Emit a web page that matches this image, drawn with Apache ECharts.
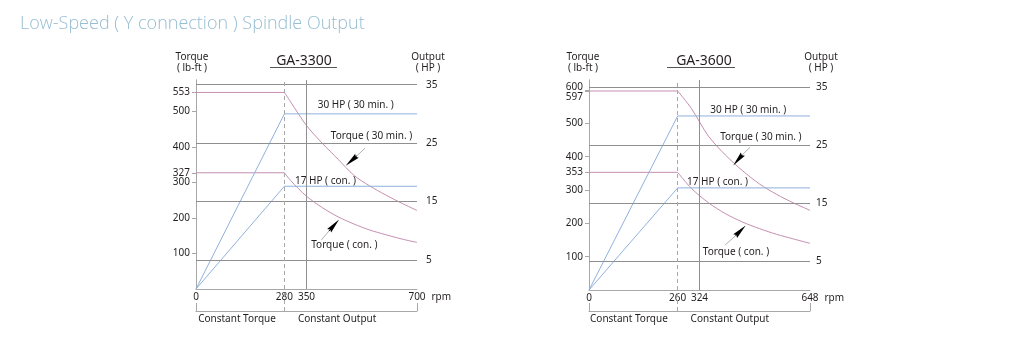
<!DOCTYPE html>
<html><head><meta charset="utf-8">
<script src="https://cdn.jsdelivr.net/npm/echarts@6/dist/echarts.min.js"></script>
<style>html,body{margin:0;padding:0;background:#fff}#c{width:1009px;height:355px}</style>
</head><body><div id="c"></div>
<script>
// ---------------- data ----------------
const mainTitle = 'Low-Speed ( Y connection ) Spindle Output';
const modelNames = ['GA-3300', 'GA-3600'];
const hpTicks = [5, 15, 25, 35];
const bracketText = ['Constant Torque', 'Constant Output'];
const hpLabelText = ['30 HP ( 30 min. )', '17 HP ( con. )'];
const torqueLabelText = ['Torque ( 30 min. )', 'Torque ( con. )'];
const torqueAxisName = 'Torque\n( lb-ft )';
const hpAxisName = 'Output\n( HP )';

// GA-3300
const a_rpmTicks = [0, 280, 350, 700];
const a_torqueTicks = [100, 200, 300, 327, 400, 500, 553];
const a_rpmCurve = [280, 300, 350, 400, 450, 500, 550, 600, 650, 700];
const a_torque30 = [553, 526, 460, 410, 365, 320, 290, 265, 242, 221];
const a_torqueCon = [327, 305, 261, 229, 203, 183, 166, 153, 141, 131];
const a_outRpm = [0, 280, 700];
const a_out30 = [0, 30, 30];
const a_outCon = [0, 17.6, 17.6];
const a_bracketAt = [130, 447];
const a_hpLabelAt = [[506, 31.5], [410, 18.55]];
const a_torqueLabelAt = [[556, 430], [470, 124]];
const a_arrowFrom = [[535, 396], [397, 138]];
const a_arrowBase = [[510, 375], [421, 163]];
const a_arrowTip = [[474, 347], [454, 196]];

// GA-3600
const b_rpmTicks = [0, 260, 324, 648];
const b_torqueTicks = [100, 200, 300, 353, 400, 500, 597, 600];
const b_rpmCurve = [260, 300, 350, 400, 450, 500, 550, 600, 648];
const b_torque30 = [597, 545, 462, 405, 358, 318, 287, 261, 239];
const b_torqueCon = [353, 305, 262, 229, 204, 184, 167, 153, 140];
const b_outRpm = [0, 260, 648];
const b_out30 = [0, 30, 30];
const b_outCon = [0, 17.6, 17.6];
const b_bracketAt = [117, 413];
const b_hpLabelAt = [[467, 31.0], [377, 18.67]];
const b_torqueLabelAt = [[504, 458], [431, 113]];
const b_arrowFrom = [[472, 428], [399, 135]];
const b_arrowBase = [[449, 405], [430, 163]];
const b_arrowTip = [[425, 376], [458, 192]];

// ---------------- style / layout ----------------
const FONT = 'Noto Sans';
const PINK = '#c48fb0';
const BLUE = '#90b1dc';
const GRID_GRAY = '#8f8f8f';
const AXIS_GRAY = '#a8a8a8';
const TXT = '#231f20';
const ARROW_PATH = 'path://M5 0 L10 28 L5 25 L0 28 Z';

const charts = [
  { name: modelNames[0], rpmTicks: a_rpmTicks, torqueTicks: a_torqueTicks, rpmCurve: a_rpmCurve,
    t30: a_torque30, tCon: a_torqueCon, outRpm: a_outRpm, out30: a_out30, outCon: a_outCon,
    bracketAt: a_bracketAt, hpLabelAt: a_hpLabelAt, torqueLabelAt: a_torqueLabelAt,
    arrowFrom: a_arrowFrom, arrowBase: a_arrowBase, arrowTip: a_arrowTip,
    L: { left: 196, top: 80, width: 221, height: 209, tMax: 588, hpMax: 35.8,
         hpTickLen: 8, hpLabelMargin: 9, rpmGap: 13, titleX: 304, lineX: [270, 337], tNameX: 192, hpNameX: 428 } },
  { name: modelNames[1], rpmTicks: b_rpmTicks, torqueTicks: b_torqueTicks, rpmCurve: b_rpmCurve,
    t30: b_torque30, tCon: b_torqueCon, outRpm: b_outRpm, out30: b_out30, outCon: b_outCon,
    bracketAt: b_bracketAt, hpLabelAt: b_hpLabelAt, torqueLabelAt: b_torqueLabelAt,
    arrowFrom: b_arrowFrom, arrowBase: b_arrowBase, arrowTip: b_arrowTip,
    L: { left: 589, top: 80, width: 221, height: 210, tMax: 630, hpMax: 36.2,
         hpTickLen: 4, hpLabelMargin: 6, rpmGap: 7, titleX: 704, lineX: [667, 735], tNameX: 583, hpNameX: 821 } }
];

const option = {
  animation: false,
  backgroundColor: '#fff',
  textStyle: { fontFamily: FONT },
  grid: [], xAxis: [], yAxis: [], series: [],
  graphic: [
    { type: 'text', left: 20, top: 15, style: { text: mainTitle, fill: '#97bdd2', font: '300 18px "Open Sans", "Noto Sans", sans-serif' } }
  ]
};

const zip = (xs, ys) => xs.map((x, i) => [x, ys[i]]);

charts.forEach((c, ci) => {
  const L = c.L;
  const g = ci * 2;           // main grid index
  const xMain = ci * 3, xBr = ci * 3 + 2;
  const yT = ci * 3, yH = ci * 3 + 1, yBr = ci * 3 + 2;
  const rpmMax = c.rpmTicks[c.rpmTicks.length - 1];
  const corner = c.rpmCurve[0];
  const marker = c.rpmTicks[2];

  option.grid.push({ left: L.left, top: L.top, width: L.width, height: L.height, outerBoundsMode: 'none', containLabel: false });
  option.grid.push({ left: L.left, top: L.top + L.height, width: L.width, height: 311 - (L.top + L.height), outerBoundsMode: 'none', containLabel: false });

  // x axes
  option.xAxis.push({
    type: 'value', gridIndex: g, min: 0, max: rpmMax, position: 'bottom',
    axisLine: { show: false }, axisTick: { show: false }, splitLine: { show: false },
    axisLabel: { customValues: c.rpmTicks, fontSize: 10, color: TXT, margin: 3, fontFamily: FONT },
    name: 'rpm', nameLocation: 'end', nameGap: L.rpmGap,
    nameTextStyle: { fontSize: 10, color: TXT, verticalAlign: 'top', padding: [3, 0, 0, 0], fontFamily: FONT }
  });
  option.xAxis.push({
    type: 'value', gridIndex: g, min: 0, max: rpmMax, position: 'top',
    axisLine: { show: true, lineStyle: { color: AXIS_GRAY, width: 1 } },
    axisTick: { show: false }, axisLabel: { show: false }, splitLine: { show: false }
  });
  option.xAxis.push({
    type: 'value', gridIndex: g + 1, min: 0, max: rpmMax, position: 'bottom',
    axisLine: { show: true, lineStyle: { color: AXIS_GRAY, width: 1 } },
    axisTick: { show: true, inside: true, length: 8, customValues: [0, rpmMax], lineStyle: { color: AXIS_GRAY } },
    axisLabel: { customValues: c.bracketAt, formatter: v => bracketText[c.bracketAt.indexOf(v)] || '',
                 fontSize: 10, color: TXT, margin: 3, fontFamily: FONT },
    splitLine: { show: false }
  });

  // y axes
  option.yAxis.push({
    type: 'value', gridIndex: g, min: 0, max: L.tMax, position: 'left',
    axisLine: { show: true, lineStyle: { color: AXIS_GRAY, width: 1 } },
    axisTick: { show: true, length: 4, customValues: c.torqueTicks, lineStyle: { color: AXIS_GRAY } },
    axisLabel: {
      customValues: c.torqueTicks, fontSize: 10, color: TXT, margin: 6, fontFamily: FONT,
      formatter: v => (v === 600 ? '{up|600}' : (v === 597 ? '{dn|597}' : String(v))),
      rich: { up: { padding: [0, 0, 6, 0], fontSize: 10, color: TXT, fontFamily: FONT },
              dn: { padding: [12, 0, 0, 0], fontSize: 10, color: TXT, fontFamily: FONT } }
    },
    splitLine: { show: false }
  });
  option.yAxis.push({
    type: 'value', gridIndex: g, min: 0, max: L.hpMax, position: 'right',
    axisLine: { show: true, lineStyle: { color: AXIS_GRAY, width: 1 } },
    axisTick: { show: true, length: L.hpTickLen, customValues: hpTicks, lineStyle: { color: GRID_GRAY } },
    axisLabel: { customValues: hpTicks, fontSize: 10, color: TXT, margin: L.hpLabelMargin, fontFamily: FONT },
    splitLine: { show: false }
  });
  option.yAxis.push({ type: 'value', gridIndex: g + 1, min: 0, max: 1, show: false });

  // gridlines (HP) + vertical lines
  option.series.push({
    type: 'line', xAxisIndex: xMain, yAxisIndex: yH, data: [], silent: true, z: 1,
    markLine: { silent: true, symbol: 'none', animation: false, label: { show: false },
      lineStyle: { color: GRID_GRAY, width: 1, type: 'solid' },
      data: hpTicks.map(v => ({ yAxis: v })).concat([
        { xAxis: marker, lineStyle: { color: GRID_GRAY, type: 'solid', width: 1 } },
        { xAxis: corner, lineStyle: { color: AXIS_GRAY, type: [4, 3], width: 1 } }
      ]) }
  });
  option.series.push({
    type: 'line', xAxisIndex: xBr, yAxisIndex: yBr, data: [], silent: true,
    markLine: { silent: true, symbol: 'none', animation: false, label: { show: false },
      lineStyle: { color: AXIS_GRAY, width: 1, type: [4, 3] }, data: [{ xAxis: corner }] }
  });

  // torque curves
  const tSeries = (arr) => {
    option.series.push({ type: 'line', xAxisIndex: xMain, yAxisIndex: yT, symbol: 'none', z: 3,
      lineStyle: { color: PINK, width: 1 }, data: [[0, arr[0]], [corner, arr[0]]] });
    option.series.push({ type: 'line', xAxisIndex: xMain, yAxisIndex: yT, symbol: 'none', smooth: 0.3, z: 3,
      lineStyle: { color: PINK, width: 1 }, data: zip(c.rpmCurve, arr) });
  };
  tSeries(c.t30);
  tSeries(c.tCon);

  // output lines
  [c.out30, c.outCon].forEach(arr => {
    option.series.push({ type: 'line', xAxisIndex: xMain, yAxisIndex: yH, symbol: 'none', z: 3,
      lineStyle: { color: BLUE, width: 1 }, data: zip(c.outRpm, arr) });
  });

  // annotations: HP labels
  option.series.push({
    type: 'line', xAxisIndex: xMain, yAxisIndex: yH, data: [], z: 5,
    markPoint: { silent: true, animation: false, symbol: 'rect', symbolSize: 1, itemStyle: { color: 'rgba(0,0,0,0)' },
      label: { show: true, position: 'inside', formatter: p => p.name, fontSize: 10, color: TXT, fontFamily: FONT },
      data: hpLabelText.map((t, i) => ({ name: t, coord: c.hpLabelAt[i] })) }
  });
  // annotations: torque labels and leader lines
  option.series.push({
    type: 'line', xAxisIndex: xMain, yAxisIndex: yT, data: [], z: 5,
    markPoint: { silent: true, animation: false, symbol: 'rect', symbolSize: 1, itemStyle: { color: 'rgba(0,0,0,0)' },
      label: { show: true, position: 'inside', formatter: p => p.name, fontSize: 10, color: TXT, fontFamily: FONT },
      data: torqueLabelText.map((t, i) => ({ name: t, coord: c.torqueLabelAt[i] })) },
    markLine: { silent: true, animation: false, symbol: 'none', label: { show: false },
      lineStyle: { color: '#9a9a9a', width: 0.8, type: 'solid' },
      data: c.arrowFrom.map((f, i) => [{ coord: f }, { coord: c.arrowBase[i] }]) }
  });
  // arrow heads
  const mid = (a, b) => [(a[0] + b[0]) / 2, (a[1] + b[1]) / 2];
  option.series.push({
    type: 'line', xAxisIndex: xMain, yAxisIndex: yT, data: [], z: 6,
    markLine: { silent: true, animation: false, symbol: ['none', ARROW_PATH], symbolSize: 15, symbolKeepAspect: true,
      label: { show: false }, lineStyle: { color: '#000', width: 1, type: 'solid' },
      itemStyle: { color: '#000' },
      data: c.arrowBase.map((b, i) => [{ coord: b }, { coord: mid(b, c.arrowTip[i]) }]) }
  });

  // chart title with underline, axis names
  option.graphic.push({ type: 'text', x: L.titleX, y: 61, style: { text: c.name, fill: TXT,
    font: '14px "Noto Sans", sans-serif', align: 'center', verticalAlign: 'middle' } });
  option.graphic.push({ type: 'line', shape: { x1: L.lineX[0], y1: 67.5, x2: L.lineX[1], y2: 67.5 },
    style: { stroke: '#555', lineWidth: 1 } });
  option.graphic.push({ type: 'text', x: L.tNameX, y: 52, style: { text: torqueAxisName, fill: TXT,
    font: '10px "Noto Sans", sans-serif', align: 'center', verticalAlign: 'top', lineHeight: 11 } });
  option.graphic.push({ type: 'text', x: L.hpNameX, y: 52, style: { text: hpAxisName, fill: TXT,
    font: '10px "Noto Sans", sans-serif', align: 'center', verticalAlign: 'top', lineHeight: 11 } });
});

const chart = echarts.init(document.getElementById('c'), null, { renderer: 'canvas' });
chart.setOption(option);
</script>
</body></html>
